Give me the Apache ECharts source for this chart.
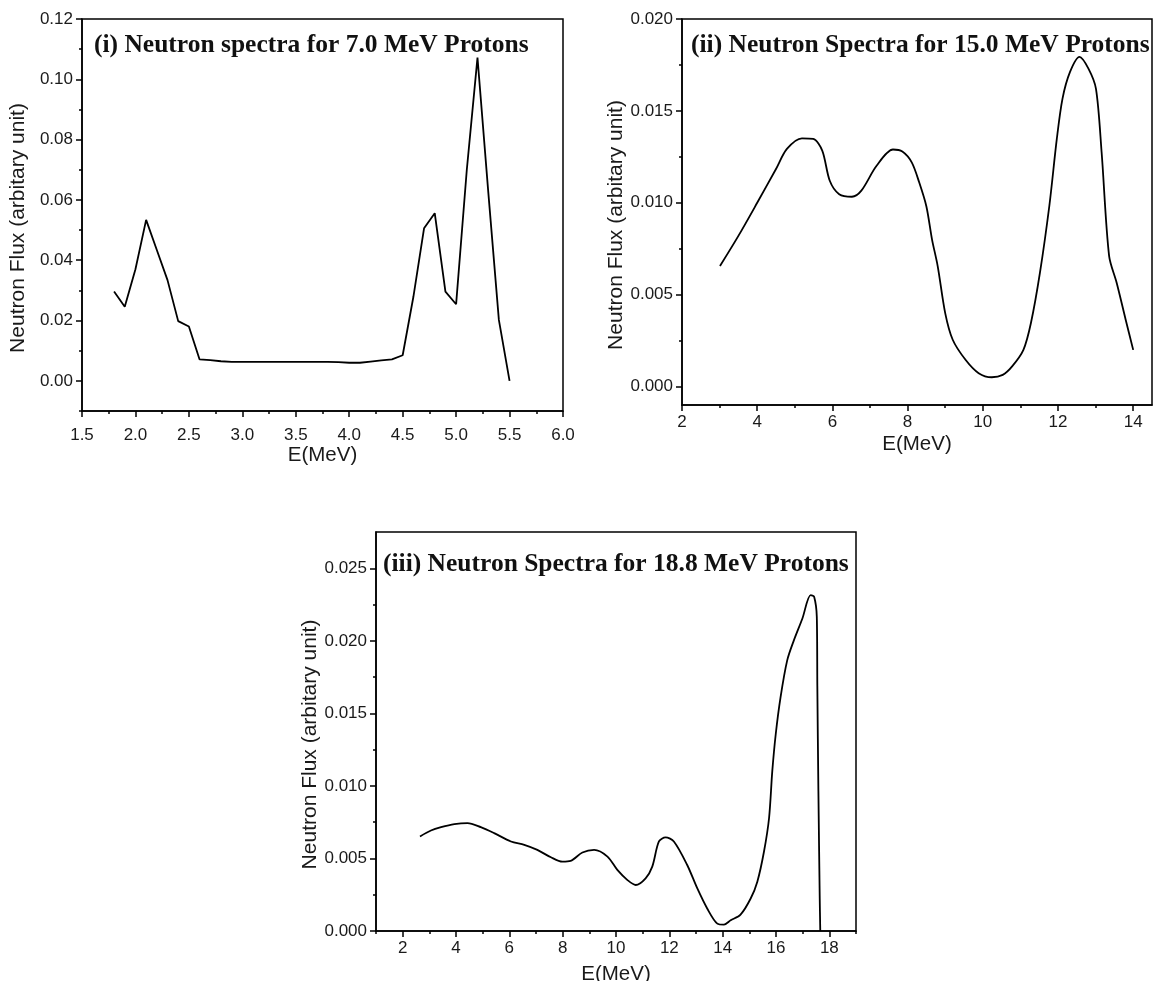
<!DOCTYPE html>
<html>
<head>
<meta charset="utf-8">
<script src="https://cdn.jsdelivr.net/npm/echarts@6/dist/echarts.min.js"></script>
<style>html,body{margin:0;padding:0;background:#fff}#c{width:1153px;height:981px}</style>
</head>
<body>
<div id="c"></div>
<script>
// ---------- Panel (i): 7.0 MeV protons ----------
const p1Title = '(i) Neutron spectra for 7.0 MeV Protons';
const p1Energy = [1.8,1.9,2.0,2.1,2.2,2.3,2.4,2.5,2.6,2.7,2.8,2.9,3.0,3.1,3.2,3.3,3.4,3.5,3.6,3.7,3.8,3.9,4.0,4.1,4.2,4.3,4.4,4.5,4.6,4.7,4.8,4.9,5.0,5.1,5.2,5.3,5.4,5.5];
const p1Flux = [0.0296,0.0246,0.0370,0.0534,0.0434,0.0334,0.0198,0.0180,0.0071,0.0069,0.0065,0.0063,0.0063,0.0063,0.0063,0.0063,0.0063,0.0063,0.0063,0.0063,0.0063,0.0062,0.0060,0.0060,0.0064,0.0068,0.0071,0.0085,0.0278,0.0506,0.0556,0.0296,0.0254,0.0700,0.1072,0.0630,0.0202,0.0000];
const p1XTicks = [1.5,2.0,2.5,3.0,3.5,4.0,4.5,5.0,5.5,6.0];
const p1XMinor = [1.75,2.25,2.75,3.25,3.75,4.25,4.75,5.25,5.75];
const p1YTicks = [0.00,0.02,0.04,0.06,0.08,0.10,0.12];
const p1YMinor = [-0.01,0.01,0.03,0.05,0.07,0.09,0.11];

// ---------- Panel (ii): 15.0 MeV protons ----------
const p2Title = '(ii) Neutron Spectra for 15.0 MeV Protons';
const p2Energy = [3.01,3.5,4.0,4.5,4.79,5.19,5.49,5.73,5.93,6.18,6.52,6.77,7.17,7.61,7.86,8.11,8.31,8.5,8.65,8.8,9.0,9.2,9.54,9.89,10.24,10.53,10.78,11.08,11.28,11.52,11.77,11.97,12.12,12.32,12.57,12.81,13.01,13.16,13.36,13.56,13.8,14.0];
const p2Flux = [0.00656,0.0082,0.0100,0.01184,0.01293,0.01351,0.01348,0.01284,0.0112,0.01047,0.01033,0.01066,0.0120,0.0129,0.01279,0.0122,0.0111,0.0098,0.0080,0.00656,0.0040,0.00255,0.00146,0.00073,0.00051,0.00064,0.0011,0.0020,0.00346,0.0062,0.00984,0.0135,0.01567,0.01712,0.01794,0.0173,0.0162,0.01275,0.0071,0.00565,0.00364,0.0020];
const p2XTicks = [2,4,6,8,10,12,14];
const p2XMinor = [3,5,7,9,11,13];
const p2YTicks = [0.000,0.005,0.010,0.015,0.020];
const p2YMinor = [0.0025,0.0075,0.0125,0.0175];

// ---------- Panel (iii): 18.8 MeV protons ----------
const p3Title = '(iii) Neutron Spectra for 18.8 MeV Protons';
const p3Energy = [2.65,3.06,3.44,3.94,4.43,4.93,5.43,6.06,6.56,7.05,7.56,7.99,8.3,8.74,9.18,9.68,10.05,10.43,10.74,11.11,11.36,11.61,11.86,12.17,12.67,13.05,13.42,13.8,14.05,14.3,14.67,15.05,15.3,15.55,15.74,15.86,15.99,16.17,16.42,16.67,16.99,17.3,17.43,17.53,17.55,17.59,17.64,17.66];
const p3Flux = [0.00652,0.00693,0.00716,0.00737,0.00744,0.00716,0.00675,0.00617,0.00594,0.00559,0.00508,0.00478,0.00483,0.00541,0.00559,0.00513,0.00421,0.00351,0.00317,0.00363,0.00444,0.00617,0.00645,0.00617,0.00455,0.00293,0.00155,0.00051,0.00044,0.00074,0.00113,0.00224,0.0034,0.00548,0.00779,0.0110,0.01356,0.0161,0.01865,0.02003,0.02154,0.02315,0.02304,0.02165,0.01691,0.00963,0.00224,0.0000];
const p3XTicks = [2,4,6,8,10,12,14,16,18];
const p3XMinor = [1,3,5,7,9,11,13,15,17,19];
const p3YTicks = [0.000,0.005,0.010,0.015,0.020,0.025];
const p3YMinor = [0.0025,0.0075,0.0125,0.0175,0.0225];

const xName = 'E(MeV)';
const yName = 'Neutron Flux (arbitary unit)';

const panels = [
  {title:p1Title, x:p1Energy, y:p1Flux, xT:p1XTicks, xM:p1XMinor, yT:p1YTicks, yM:p1YMinor,
   xMin:1.5, xMax:6.0, yMin:-0.01, yMax:0.12, xDec:1, yDec:2, smooth:false, xMargin:16, xGap:31,
   grid:{left:82, top:19, width:481, height:392}, titlePos:{left:94, top:32}},
  {title:p2Title, x:p2Energy, y:p2Flux, xT:p2XTicks, xM:p2XMinor, yT:p2YTicks, yM:p2YMinor,
   xMin:2, xMax:14.5, yMin:-0.001, yMax:0.020, xDec:0, yDec:3, smooth:0.3, xMargin:9, xGap:29,
   grid:{left:682, top:19, width:470, height:386}, titlePos:{left:691, top:32}},
  {title:p3Title, x:p3Energy, y:p3Flux, xT:p3XTicks, xM:p3XMinor, yT:p3YTicks, yM:p3YMinor,
   xMin:1, xMax:19, yMin:0, yMax:0.0275, xDec:0, yDec:3, smooth:0.3, xMargin:9, xGap:33,
   grid:{left:376, top:532, width:480, height:399}, titlePos:{left:383, top:551}}
];

const FONT = 'Liberation Sans, Arial, sans-serif';
const labelStyle = {fontFamily:FONT, fontSize:17, color:'#1a1a1a'};
const grids=[], xAxes=[], yAxes=[], series=[], titles=[];

panels.forEach((p, i) => {
  grids.push(Object.assign({show:true, borderColor:'#000', borderWidth:1.5, containLabel:false, outerBoundsMode:'none'}, p.grid));
  titles.push({text:p.title, left:p.titlePos.left, top:p.titlePos.top, padding:0,
    textStyle:{fontFamily:'Liberation Serif, Times New Roman, serif', fontWeight:'bold', fontSize:25.5, color:'#111'}});
  xAxes.push({type:'value', gridIndex:i, min:p.xMin, max:p.xMax, position:'bottom',
    name:xName, nameLocation:'middle', nameGap:p.xGap,
    nameTextStyle:{fontFamily:FONT, fontSize:20.5, color:'#1a1a1a'},
    axisLine:{show:true, onZero:false, lineStyle:{color:'#000', width:1.5}},
    axisTick:{show:true, inside:false, length:6, customValues:p.xT, lineStyle:{color:'#000', width:1.5}},
    axisLabel:Object.assign({show:true, margin:p.xMargin, customValues:p.xT, formatter:v=>Number(v).toFixed(p.xDec)}, labelStyle),
    splitLine:{show:false}});
  xAxes.push({type:'value', gridIndex:i, min:p.xMin, max:p.xMax, position:'bottom', offset:0,
    axisLine:{show:false, onZero:false},
    axisTick:{show:true, inside:false, length:3, customValues:p.xM, lineStyle:{color:'#000', width:1.5}},
    axisLabel:{show:false}, splitLine:{show:false}});
  yAxes.push({type:'value', gridIndex:i, min:p.yMin, max:p.yMax, position:'left',
    name:yName, nameLocation:'middle', nameGap:53,
    nameTextStyle:{fontFamily:FONT, fontSize:21, color:'#1a1a1a', padding:[0,26,0,0]},
    axisLine:{show:true, onZero:false, lineStyle:{color:'#000', width:1.5}},
    axisTick:{show:true, inside:false, length:6, customValues:p.yT, lineStyle:{color:'#000', width:1.5}},
    axisLabel:Object.assign({show:true, margin:9, customValues:p.yT, formatter:v=>Number(v).toFixed(p.yDec)}, labelStyle),
    splitLine:{show:false}});
  yAxes.push({type:'value', gridIndex:i, min:p.yMin, max:p.yMax, position:'left', offset:0,
    axisLine:{show:false, onZero:false},
    axisTick:{show:true, inside:false, length:3, customValues:p.yM, lineStyle:{color:'#000', width:1.5}},
    axisLabel:{show:false}, splitLine:{show:false}});
  series.push({type:'line', xAxisIndex:2*i, yAxisIndex:2*i, showSymbol:false, symbol:'none',
    smooth:p.smooth, lineStyle:{color:'#000', width:1.8}, animation:false,
    data:p.x.map((v,k)=>[v, p.y[k]])});
});

const chart = echarts.init(document.getElementById('c'), null, {renderer:'canvas'});
chart.setOption({animation:false, backgroundColor:'#fff', title:titles, grid:grids, xAxis:xAxes, yAxis:yAxes, series:series});
</script>
</body>
</html>
